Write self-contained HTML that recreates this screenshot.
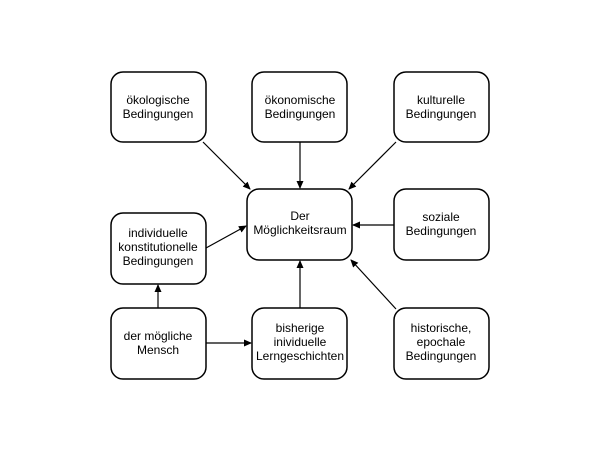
<!DOCTYPE html>
<html><head><meta charset="utf-8"><style>
html,body{margin:0;padding:0;background:#fff;}
svg{display:block;}
text{font-family:"Liberation Sans",Arial,sans-serif;font-size:12px;fill:#000;text-anchor:middle;}
</style></head><body>
<svg width="600" height="450" viewBox="0 0 600 450" xmlns="http://www.w3.org/2000/svg">
<defs><marker id="a" markerWidth="8" markerHeight="8" refX="7" refY="4" orient="auto" markerUnits="userSpaceOnUse"><path d="M0,0.5 L8,4 L0,7.5 z" fill="#000"/></marker></defs>
<g fill="#fff" stroke="#000" stroke-width="1.5">
<rect x="111" y="72" width="95" height="70" rx="12"/>
<rect x="252" y="72" width="95" height="70" rx="12"/>
<rect x="394" y="72" width="95" height="70" rx="12"/>
<rect x="247" y="189" width="105" height="71" rx="12"/>
<rect x="394" y="189" width="95" height="71" rx="12"/>
<rect x="111" y="213" width="95" height="71" rx="12"/>
<rect x="111" y="308" width="95" height="71" rx="12"/>
<rect x="252" y="308" width="95" height="71" rx="12"/>
<rect x="394" y="308" width="95" height="71" rx="12"/>
</g>
<g stroke="#000" stroke-width="1.2" marker-end="url(#a)">
<line x1="203" y1="142" x2="250" y2="189"/>
<line x1="300" y1="142" x2="300" y2="188"/>
<line x1="396" y1="142" x2="349" y2="189"/>
<line x1="394" y1="225" x2="353" y2="225"/>
<line x1="206" y1="248" x2="246" y2="226"/>
<line x1="158" y1="308" x2="158" y2="285"/>
<line x1="206" y1="343" x2="251" y2="343"/>
<line x1="300" y1="308" x2="300" y2="261"/>
<line x1="396" y1="309" x2="351" y2="260"/>
</g>
<text x="158" y="104">ökologische</text><text x="158" y="118">Bedingungen</text>
<text x="300" y="104">ökonomische</text><text x="300" y="118">Bedingungen</text>
<text x="441" y="104">kulturelle</text><text x="441" y="118">Bedingungen</text>
<text x="300" y="220">Der</text><text x="300" y="234">Möglichkeitsraum</text>
<text x="441" y="221">soziale</text><text x="441" y="235">Bedingungen</text>
<text x="158" y="237">individuelle</text><text x="158" y="251">konstitutionelle</text><text x="158" y="265">Bedingungen</text>
<text x="158" y="340">der mögliche</text><text x="158" y="354">Mensch</text>
<text x="300" y="332">bisherige</text><text x="300" y="346">inividuelle</text><text x="300" y="360">Lerngeschichten</text>
<text x="441" y="332">historische,</text><text x="441" y="346">epochale</text><text x="441" y="360">Bedingungen</text>
</svg>
</body></html>
